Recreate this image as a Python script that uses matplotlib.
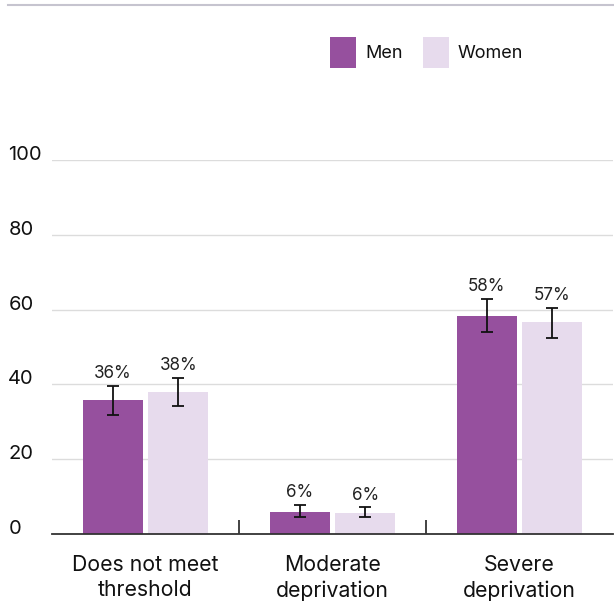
import matplotlib
matplotlib.use("Agg")
import matplotlib.pyplot as plt
from matplotlib.lines import Line2D
from matplotlib.patches import Rectangle
import numpy as np

plt.rcParams['font.family'] = ['Inter', 'DejaVu Sans']

categories = ["Does not meet\nthreshold", "Moderate\ndeprivation", "Severe\ndeprivation"]
men = [35.7, 6.0, 58.4]
women = [37.9, 5.7, 56.6]
men_lo = [31.8, 4.5, 54.0]
men_hi = [39.6, 7.8, 62.8]
women_lo = [34.3, 4.5, 52.5]
women_hi = [41.7, 7.1, 60.5]
men_labels = ["36%", "6%", "58%"]
women_labels = ["38%", "6%", "57%"]
yticks = [0, 20, 40, 60, 80, 100]
series_names = ["Men", "Women"]

men_color = "#96509e"
women_color = "#e7dbed"
text_color = "#111111"

W, H = 614, 602
fig = plt.figure(figsize=(W / 100, H / 100), dpi=100)
ax = fig.add_axes([52 / W, 1 - 534 / H, 561 / W, 374 / H])

x = np.arange(len(categories))
w = 0.32
off = 0.176

def draw_series(pos, vals, lo, hi, labels, color):
    ax.bar(pos, vals, width=w, color=color, zorder=2)
    yerr = [np.array(vals) - np.array(lo), np.array(hi) - np.array(vals)]
    ax.errorbar(pos, vals, yerr=yerr, fmt="none", ecolor=text_color,
                elinewidth=1.3, capsize=4, capthick=1.3, zorder=3)
    for p, h, t in zip(pos, hi, labels):
        ax.text(p, h + 1.0, t, ha="center", va="bottom", fontsize=12.3,
                color="#222222")

draw_series(x - off, men, men_lo, men_hi, men_labels, men_color)
draw_series(x + off, women, women_lo, women_hi, women_labels, women_color)

ax.set_xlim(-0.5, 2.5)
ax.set_ylim(0, 100)
ax.set_yticks(yticks)
ax.grid(axis="y", color="#dcdcdc", linewidth=1, zorder=0)
ax.set_axisbelow(True)
for s in ["top", "right", "left"]:
    ax.spines[s].set_visible(False)
ax.spines["bottom"].set_color("#333333")
ax.spines["bottom"].set_linewidth(1.3)

# y labels sit on top of their gridlines, flush left
ax.tick_params(axis="y", length=0, pad=31.5, labelsize=14.5, labelcolor=text_color)
for lab in ax.get_yticklabels():
    lab.set_horizontalalignment("left")
    lab.set_verticalalignment("baseline")

ax.set_xticks(x)
ax.set_xticklabels(categories, fontsize=15.3, color=text_color, linespacing=1.32)
ax.tick_params(axis="x", which="major", length=0, pad=15)
ax.set_xticks([0.5, 1.5], minor=True)
ax.tick_params(axis="x", which="minor", direction="in", length=10,
               width=1.2, color="#222222")

# legend drawn by hand in pixel positions
for x0, name, color in zip([330, 423], series_names, [men_color, women_color]):
    fig.add_artist(Rectangle((x0 / W, 1 - 68 / H), 26 / W, 31 / H,
                             facecolor=color, edgecolor="none",
                             transform=fig.transFigure))
    fig.text((x0 + 35) / W, 1 - 53 / H, name, ha="left", va="center",
             fontsize=13, color=text_color)

fig.add_artist(Line2D([8 / W, 1.0], [1 - 5 / H, 1 - 5 / H],
                      color="#c6c4cf", linewidth=1.5))

fig.savefig("out.png", dpi=100)
